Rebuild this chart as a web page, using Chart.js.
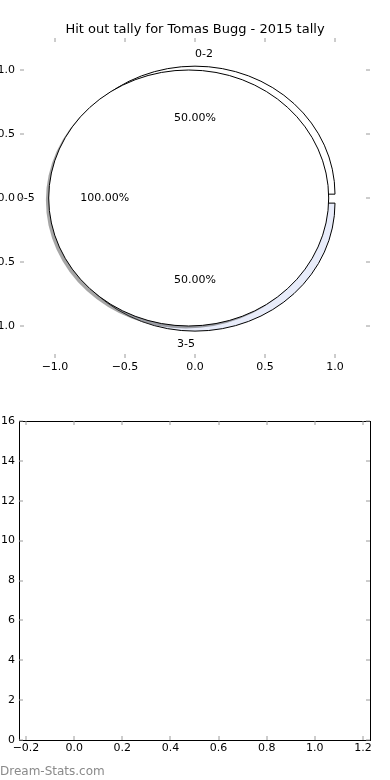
<!DOCTYPE html>
<html>
<head>
<meta charset="utf-8">
<script src="https://cdn.jsdelivr.net/npm/chart.js@4.4.1/dist/chart.umd.min.js"></script>
<style>
  html, body { margin: 0; padding: 0; background: #fff; }
  body { width: 390px; height: 780px; position: relative; overflow: hidden; font-family: 'DejaVu Sans', sans-serif; }
  .box { position: absolute; left: 0; width: 390px; height: 390px; }
  #pieBox { top: 0; }
  #emptyBox { top: 390px; }
  #mark { position: absolute; left: 0; top: 763.5px; font-size: 12px; line-height: 14px; color: #8a8a8a; }
</style>
</head>
<body>
<div class="box" id="pieBox"><canvas id="pieChart"></canvas></div>
<div class="box" id="emptyBox"><canvas id="emptyChart"></canvas></div>
<div id="mark">Dream-Stats.com</div>
<script>
const chartTitle = 'Hit out tally for Tomas Bugg - 2015 tally';

// two pies drawn over each other: the split buckets, then the whole range
const splitLabels = ['0-2', '3-5'];
const splitValues = [1, 1];
const totalLabels = ['0-5'];
const totalValues = [2];

const pieTicks = [-1.0, -0.5, 0.0, 0.5, 1.0];
const emptyXTicks = [-0.2, 0.0, 0.2, 0.4, 0.6, 0.8, 1.0, 1.2];
const emptyYTicks = [0, 2, 4, 6, 8, 10, 12, 14, 16];

Chart.defaults.font.family = "'DejaVu Sans', sans-serif";
Chart.defaults.font.size = 11;
Chart.defaults.color = '#000';

const fmt = v => (v < 0 ? '\u2212' : '') + Math.abs(v).toFixed(1);

const pies = [
    { labels: splitLabels, values: splitValues, explode: [0.03, 0.04], colors: ['#ffffff', '#e8ecfa'], shadow: false },
    { labels: totalLabels, values: totalValues, explode: [0.045], colors: ['#ffffff'], shadow: true }
];

// pie wedges on the x/y scales (the axes are not square, so they come out as ellipses)
const piePlugin = {
    id: 'pies',
    afterDatasetsDraw(chart) {
        const { ctx, scales: { x, y } } = chart;
        const rx = x.getPixelForValue(1) - x.getPixelForValue(0);
        const ry = y.getPixelForValue(0) - y.getPixelForValue(1);
        const texts = [];
        ctx.save();
        pies.forEach(p => {
            const total = p.values.reduce((a, b) => a + b, 0);
            let theta = 0;
            p.values.forEach((v, i) => {
                const t1 = theta;
                const t2 = theta + 2 * Math.PI * v / total;
                theta = t2;
                const mid = (t1 + t2) / 2;
                const cx = p.explode[i] * Math.cos(mid);
                const cy = p.explode[i] * Math.sin(mid);
                const full = Math.abs(t2 - t1 - 2 * Math.PI) < 1e-9;
                const wedge = (dx, dy) => {
                    const px = x.getPixelForValue(cx + dx);
                    const py = y.getPixelForValue(cy + dy);
                    ctx.beginPath();
                    if (!full) ctx.moveTo(px, py);
                    ctx.ellipse(px, py, rx, ry, 0, -t1, -t2, true);
                    ctx.closePath();
                };
                if (p.shadow) {
                    wedge(-0.02, -0.02);
                    ctx.fillStyle = 'rgba(77,77,77,0.5)';
                    ctx.fill();
                }
                wedge(0, 0);
                ctx.fillStyle = p.colors[i];
                ctx.fill();
                ctx.lineWidth = 1;
                ctx.strokeStyle = '#000';
                ctx.stroke();

                const lx = cx + 1.1 * Math.cos(mid);
                texts.push({ text: p.labels[i], x: lx, y: cy + 1.1 * Math.sin(mid), align: lx - cx > 0 ? 'left' : 'right' });
                texts.push({ text: (100 * v / total).toFixed(2) + '%', x: cx + 0.6 * Math.cos(mid), y: cy + 0.6 * Math.sin(mid), align: 'center' });
            });
        });
        ctx.fillStyle = '#000';
        ctx.font = "11px 'DejaVu Sans'";
        ctx.textBaseline = 'middle';
        texts.forEach(t => {
            ctx.textAlign = t.align;
            ctx.fillText(t.text, x.getPixelForValue(t.x), y.getPixelForValue(t.y) + 0.5);
        });
        ctx.restore();
    }
};

// matplotlib style tick marks pointing inwards on all four sides
const innerTicks = {
    id: 'innerTicks',
    afterDraw(chart, args, opts) {
        const { ctx, chartArea: a, scales: { x, y } } = chart;
        ctx.save();
        if (opts.frame) {
            ctx.strokeStyle = '#000';
            ctx.lineWidth = 1;
            ctx.strokeRect(Math.round(a.left) + 0.5, Math.round(a.top) + 0.5,
                Math.round(a.right - a.left), Math.round(a.bottom - a.top));
        }
        ctx.strokeStyle = '#9a9a9a';
        ctx.lineWidth = 1;
        ctx.beginPath();
        x.ticks.forEach(t => {
            const px = Math.round(x.getPixelForValue(t.value));
            ctx.moveTo(px, a.bottom); ctx.lineTo(px, a.bottom - 4);
            ctx.moveTo(px, a.top); ctx.lineTo(px, a.top + 4);
        });
        y.ticks.forEach(t => {
            const py = Math.round(y.getPixelForValue(t.value));
            ctx.moveTo(a.left, py); ctx.lineTo(a.left + 4, py);
            ctx.moveTo(a.right, py); ctx.lineTo(a.right - 4, py);
        });
        ctx.stroke();
        ctx.restore();
    }
};

const pieChartElement = document.getElementById('pieChart');
if (pieChartElement) {
    new Chart(pieChartElement.getContext('2d'), {
        type: 'scatter',
        data: { datasets: [{ data: [] }] },
        options: {
            responsive: true,
            maintainAspectRatio: false,
            animation: false,
            layout: { padding: 0 },
            plugins: {
                legend: { display: false },
                tooltip: { enabled: false },
                title: {
                    display: true,
                    text: chartTitle,
                    color: '#000',
                    font: { size: 13, weight: 'normal' },
                    padding: { top: 22, bottom: 0.4 }
                },
                innerTicks: { frame: false }
            },
            scales: {
                x: {
                    type: 'linear', min: -1.25, max: 1.25,
                    grid: { display: false, drawTicks: false },
                    border: { display: false },
                    afterBuildTicks: s => { s.ticks = pieTicks.map(v => ({ value: v })); },
                    afterFit: s => { s.height = 32; },
                    ticks: { padding: 3, maxRotation: 0, autoSkip: false, callback: v => fmt(v) }
                },
                y: {
                    type: 'linear', min: -1.25, max: 1.25,
                    grid: { display: false, drawTicks: false },
                    border: { display: false },
                    afterBuildTicks: s => { s.ticks = pieTicks.map(v => ({ value: v })); },
                    afterFit: s => { s.width = 20; },
                    ticks: { padding: 5, autoSkip: false, callback: v => fmt(v) }
                },
                // empty strip on the right so the plot area matches the reference
                right: {
                    type: 'linear', position: 'right', min: -1.25, max: 1.25,
                    grid: { display: false, drawTicks: false },
                    border: { display: false },
                    ticks: { display: false },
                    afterFit: s => { s.width = 20; }
                }
            }
        },
        plugins: [piePlugin, innerTicks]
    });
}

const emptyChartElement = document.getElementById('emptyChart');
if (emptyChartElement) {
    new Chart(emptyChartElement.getContext('2d'), {
        type: 'scatter',
        data: { datasets: [{ data: [] }] },
        options: {
            responsive: true,
            maintainAspectRatio: false,
            animation: false,
            layout: { padding: { left: 0, right: 20, top: 31, bottom: 0 } },
            plugins: {
                legend: { display: false },
                tooltip: { enabled: false },
                innerTicks: { frame: true }
            },
            scales: {
                x: {
                    type: 'linear', min: -0.229, max: 1.229,
                    grid: { display: false, drawTicks: false },
                    border: { display: false },
                    afterBuildTicks: s => { s.ticks = emptyXTicks.map(v => ({ value: v })); },
                    afterFit: s => { s.height = 40; },
                    ticks: { padding: 2, maxRotation: 0, autoSkip: false, callback: v => fmt(v) }
                },
                y: {
                    type: 'linear', min: 0, max: 16,
                    grid: { display: false, drawTicks: false },
                    border: { display: false },
                    afterBuildTicks: s => { s.ticks = emptyYTicks.map(v => ({ value: v })); },
                    afterFit: s => { s.width = 19; },
                    ticks: { padding: 4, autoSkip: false, callback: v => String(v) }
                }
            }
        },
        plugins: [innerTicks]
    });
}
</script>
</body>
</html>
